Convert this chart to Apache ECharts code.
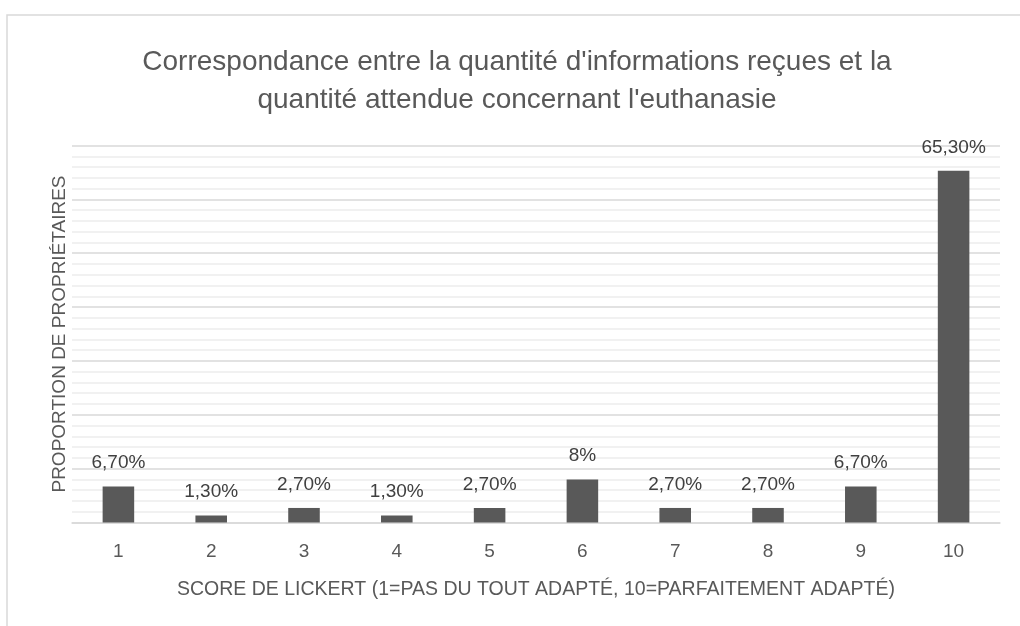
<!DOCTYPE html>
<html>
<head>
<meta charset="utf-8">
<script src="https://cdn.jsdelivr.net/npm/echarts@6/dist/echarts.min.js"></script>
<style>
  html, body { margin: 0; padding: 0; background: #fff; }
  #chart { width: 1020px; height: 626px; }
</style>
</head>
<body>
<div id="chart"></div>
<script>
// scores on the Likert scale
const categories = ['1', '2', '3', '4', '5', '6', '7', '8', '9', '10'];
// share of owners, in %
const values = [6.7, 1.3, 2.7, 1.3, 2.7, 8, 2.7, 2.7, 6.7, 65.3];
const labels = ['6,70%', '1,30%', '2,70%', '1,30%', '2,70%', '8%', '2,70%', '2,70%', '6,70%', '65,30%'];

const FONT = '"Liberation Sans", sans-serif';

const chart = echarts.init(document.getElementById('chart'));

const option = {
  animation: false,
  backgroundColor: '#fff',
  graphic: [{
    type: 'rect',
    shape: { x: 7, y: 15, width: 1100, height: 700 },
    style: { fill: 'none', stroke: '#d9d9d9', lineWidth: 1.5 },
    silent: true
  }],
  title: {
    text: "Correspondance entre la quantité d'informations reçues et la\nquantité attendue concernant l'euthanasie",
    left: 517,
    textAlign: 'center',
    top: 43,
    padding: 0,
    textStyle: {
      fontFamily: FONT,
      fontSize: 28,
      fontWeight: 'normal',
      color: '#595959',
      lineHeight: 38
    }
  },
  grid: { left: 72, right: 20, top: 145.5, bottom: 103.5 },
  xAxis: {
    type: 'category',
    data: categories,
    name: 'SCORE DE LICKERT (1=PAS DU TOUT ADAPTÉ, 10=PARFAITEMENT ADAPTÉ)',
    nameLocation: 'middle',
    nameGap: 57,
    nameTextStyle: { fontFamily: FONT, fontSize: 19.5, color: '#595959' },
    axisLine: { lineStyle: { color: '#d9d9d9', width: 1.5 } },
    axisTick: { show: false },
    axisLabel: { fontFamily: FONT, fontSize: 19, color: '#595959', margin: 20 }
  },
  yAxis: {
    type: 'value',
    min: 0,
    max: 70,
    interval: 10,
    name: 'PROPORTION DE PROPRIÉTAIRES',
    nameLocation: 'middle',
    nameRotate: 90,
    nameGap: 3,
    nameTextStyle: { fontFamily: FONT, fontSize: 19, color: '#595959' },
    axisLabel: { show: false },
    axisLine: { show: false },
    axisTick: { show: false },
    splitLine: { lineStyle: { color: '#d9d9d9', width: 1.5 } },
    minorTick: { show: false, splitNumber: 5 },
    minorSplitLine: { show: true, lineStyle: { color: '#ededed', width: 1.5 } }
  },
  series: [{
    type: 'bar',
    data: values,
    barWidth: '34%',
    itemStyle: { color: '#595959' },
    label: {
      show: true,
      position: 'top',
      distance: 14,
      fontFamily: FONT,
      fontSize: 19,
      color: '#404040',
      formatter: p => labels[p.dataIndex]
    }
  }]
};

chart.setOption(option);
</script>
</body>
</html>
